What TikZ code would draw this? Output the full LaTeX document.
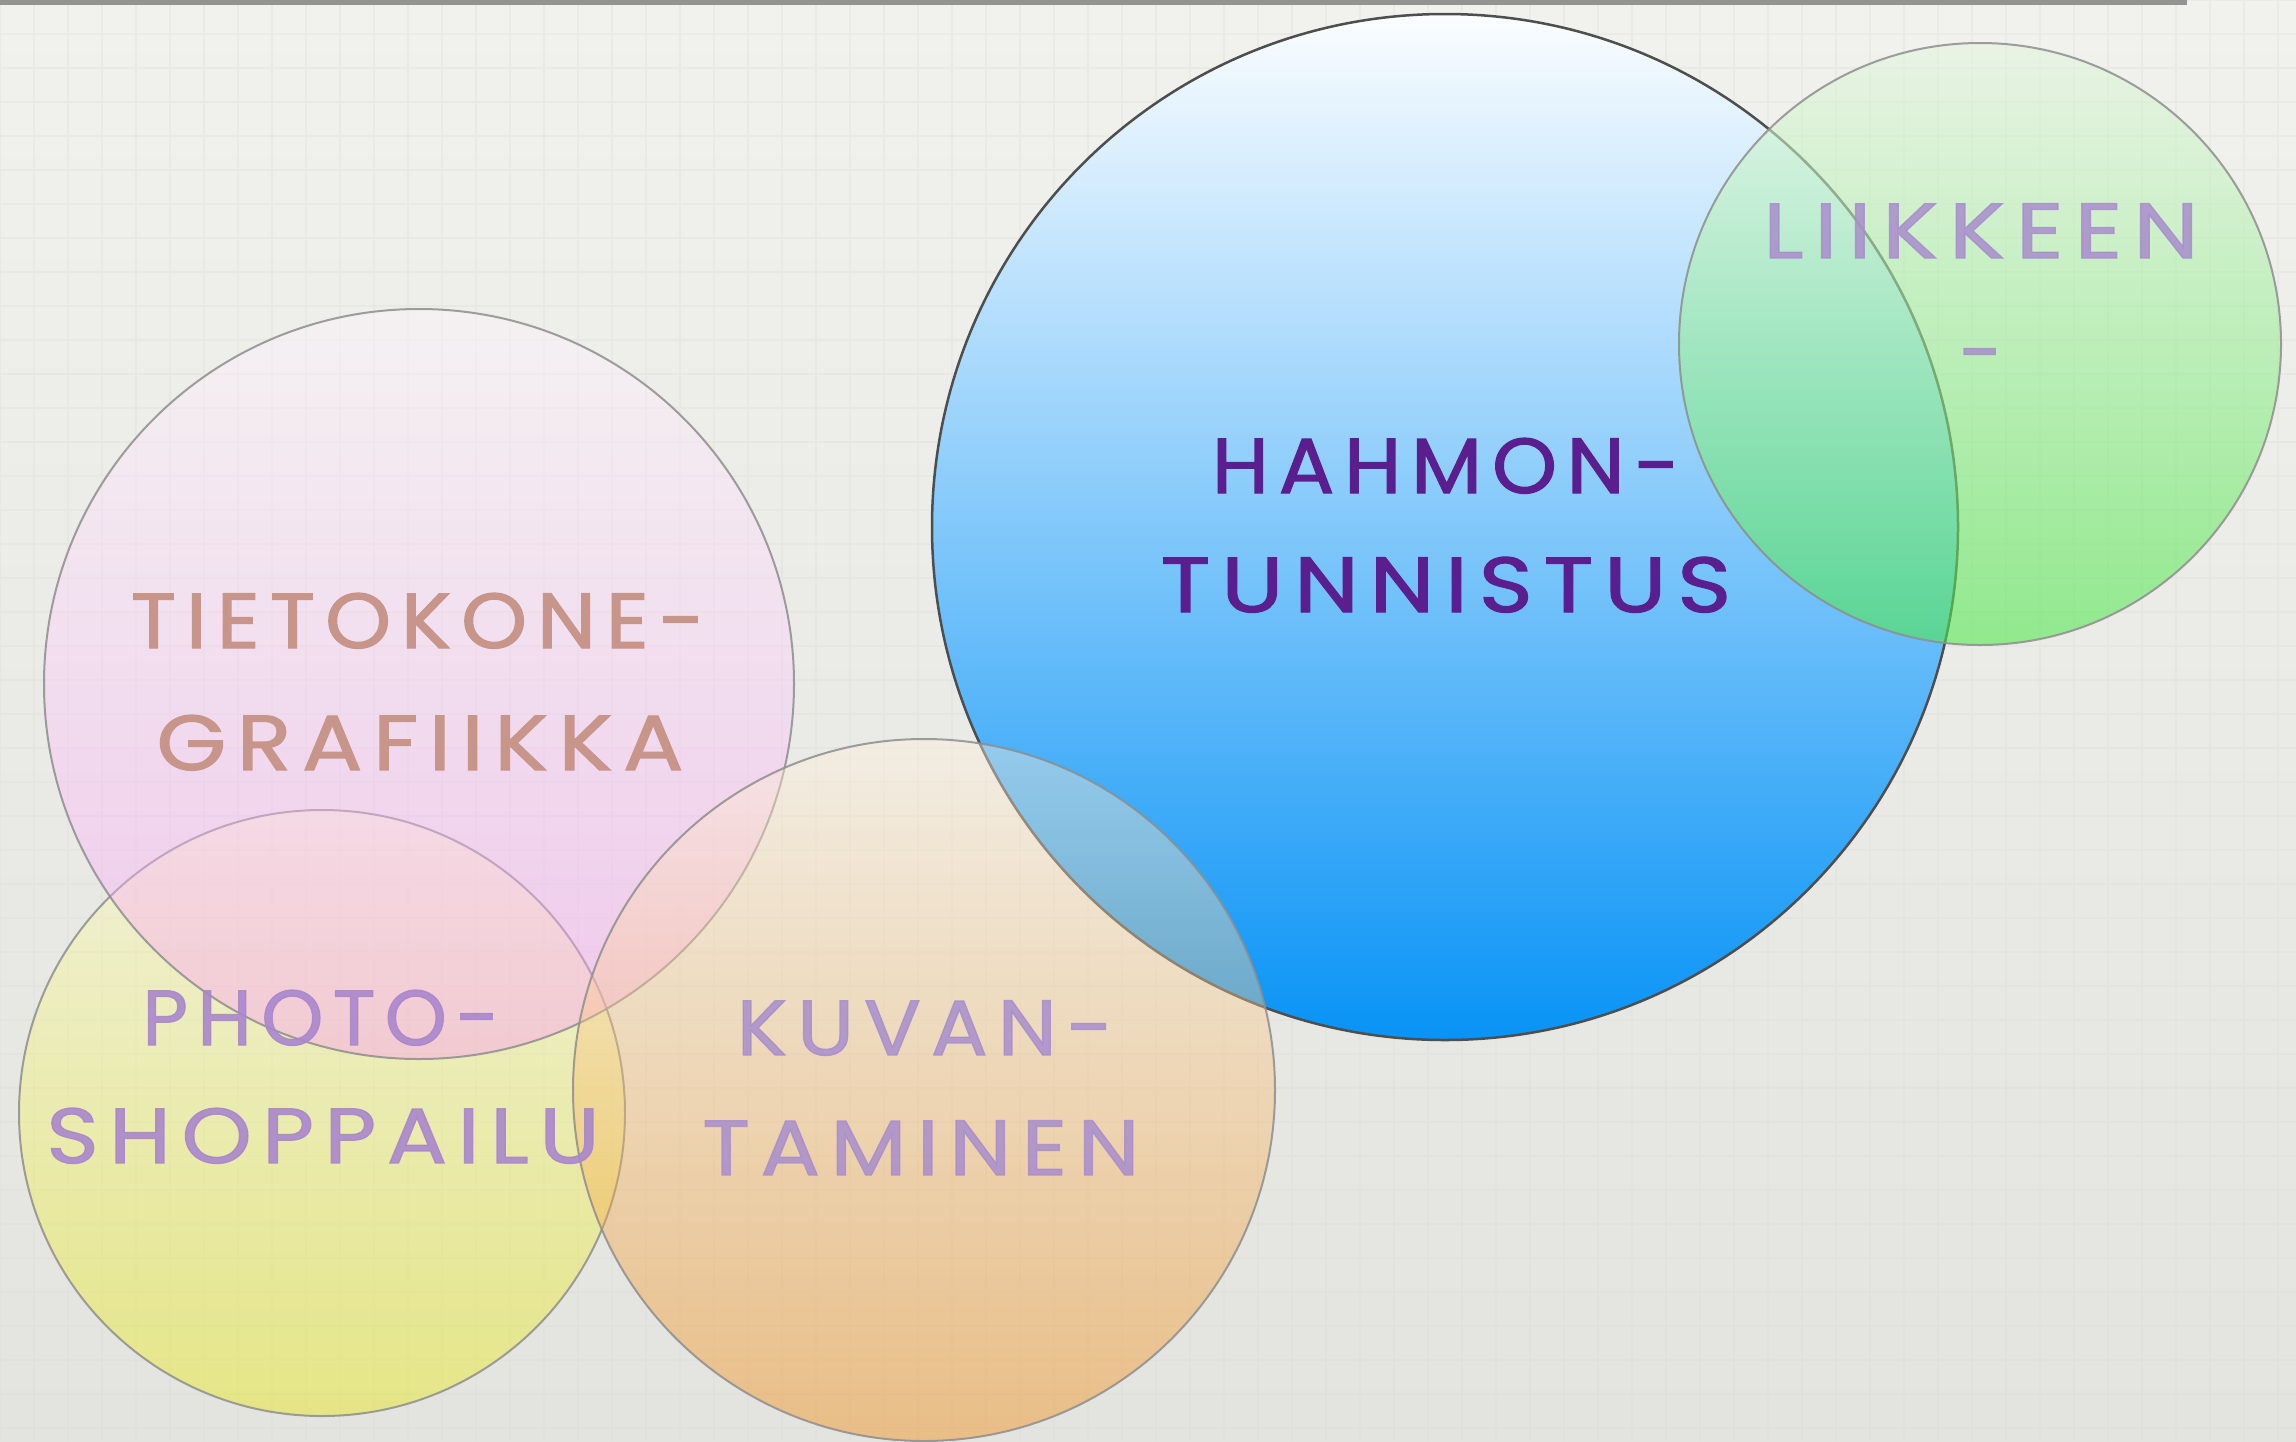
\documentclass[tikz,border=0pt]{standalone}
\usepackage{fontspec}
\setmainfont{Poppins}
\newfontfamily\handfont[LetterSpace=12,FakeBold=1.6]{Poppins}
\definecolor{bgTop}{HTML}{F1F1ED}
\definecolor{bgBot}{HTML}{E3E4E0}
\definecolor{gridc}{HTML}{DCDCD8}
\definecolor{topbar}{HTML}{939391}
\definecolor{blueT}{HTML}{FBFDFF}
\definecolor{blueM}{HTML}{8DCBF7}
\definecolor{blueB}{HTML}{0893F6}
\definecolor{greenT}{HTML}{E4F6E0}
\definecolor{greenB}{HTML}{50E84C}
\definecolor{pinkT}{HTML}{FFF7FF}
\definecolor{pinkB}{HTML}{FC98F7}
\definecolor{yelT}{HTML}{FCFCC5}
\definecolor{yelB}{HTML}{E8E800}
\definecolor{oraT}{HTML}{FFF2DE}
\definecolor{oraB}{HTML}{F28400}
\definecolor{ringgray}{HTML}{8E8E8E}
\definecolor{ringdark}{HTML}{4E4E4E}
\definecolor{hahmonc}{HTML}{5A1E8E}
\definecolor{lavender}{HTML}{A88ECC}
\definecolor{rosy}{HTML}{C8958A}
\definecolor{photoc}{HTML}{A987CC}
\tikzset{
  bubble/.style={line width=2pt, draw=ringgray, draw opacity=0.85},
  lbl/.style={font=\handfont\fontsize{78}{78}\selectfont, anchor=base, inner sep=0pt},
}
\newcommand\CircleLabel[7]{%
  \node[lbl, text=#4, text opacity=#6, xscale=#5] (#1) at (#2,#3) {#7};
}
\begin{document}
\begin{tikzpicture}[x=1pt,y=-1pt]
\useasboundingbox (0,0) rectangle (2296,1441);
% background
\shade[top color=bgTop, bottom color=bgBot] (0,0) rectangle (2296,1441);
\draw[gridc, line width=1.5pt, opacity=0.3] (0,0) grid[step=34pt] (2296,1441);
\fill[topbar] (0,0) rectangle (2187,5);
% centres
\coordinate (cBlue) at (1445,527);
\coordinate (cGreen) at (1980,344);
\coordinate (cPink) at (419,684);
\coordinate (cYel) at (322,1113);
\coordinate (cOra) at (924,1090);
% circles
\shadedraw[bubble, top color=yelT, bottom color=yelB, fill opacity=0.4] (cYel) circle[radius=303pt];
\shadedraw[bubble, top color=pinkT, bottom color=pinkB, fill opacity=0.4] (cPink) circle[radius=375pt];
\shadedraw[line width=2.5pt, draw=ringdark, top color=blueT, middle color=blueM, bottom color=blueB] (cBlue) circle[radius=513pt];
\shadedraw[bubble, top color=oraT, bottom color=oraB, fill opacity=0.4] (cOra) circle[radius=351pt];
\shadedraw[bubble, top color=greenT, bottom color=greenB, fill opacity=0.58] (cGreen) circle[radius=301pt];
% labels
\CircleLabel{hahmon}{1446}{493}{hahmonc}{1.057}{1}{HAHMON-}
\CircleLabel{tunnistus}{1446}{612}{hahmonc}{1.176}{1}{TUNNISTUS}
\CircleLabel{liikkeen}{1981}{258}{lavender}{1.19}{0.85}{LIIKKEEN}
\CircleLabel{dash}{1981}{380}{lavender}{1}{0.85}{-}
\CircleLabel{tietokone}{418}{648}{rosy}{1.073}{1}{TIETOKONE-}
\CircleLabel{grafiikka}{420}{770}{rosy}{1.147}{1}{GRAFIIKKA}
\CircleLabel{photo}{321}{1045}{photoc}{1.01}{0.9}{PHOTO-}
\CircleLabel{shoppailu}{323}{1163}{photoc}{1.142}{0.9}{SHOPPAILU}
\CircleLabel{kuvan}{925}{1055}{lavender}{1.078}{0.85}{KUVAN-}
\CircleLabel{taminen}{921}{1175}{lavender}{1.13}{0.85}{TAMINEN}
\end{tikzpicture}
\end{document}
